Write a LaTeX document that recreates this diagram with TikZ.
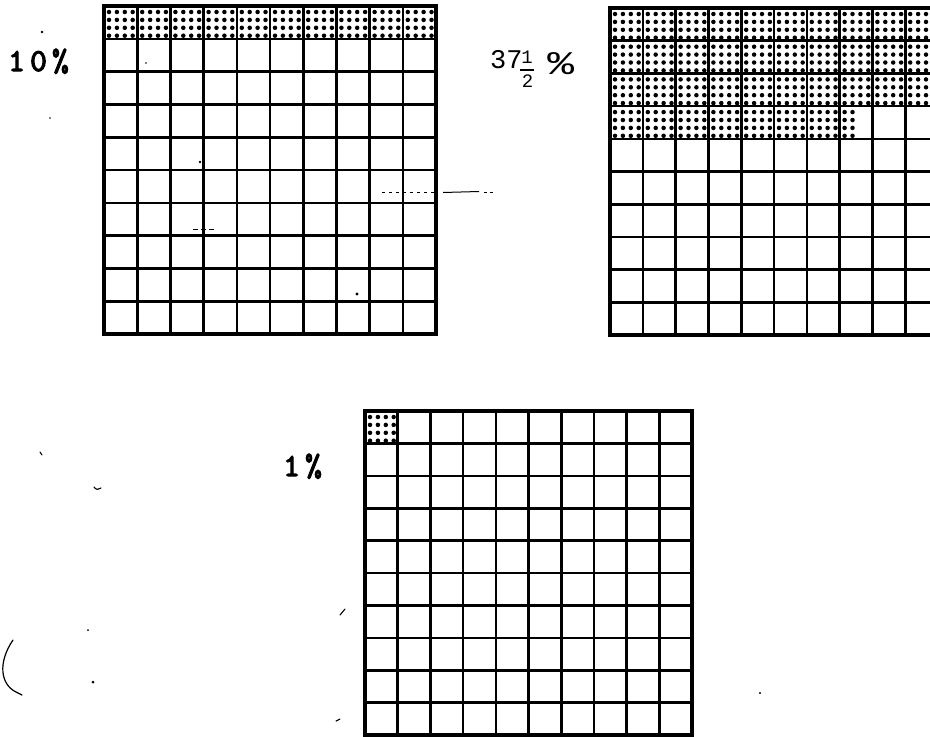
\documentclass[tikz,border=0pt]{standalone}
\usepackage{fontspec}
\newfontfamily\tw{Liberation Mono}
\newfontfamily\typew{lmmono10-regular.otf}[FakeBold=3.5, LetterSpace=16]
\newcommand\pgrid[4]{%
  \foreach \i in {1,...,9}{\draw[gridline] ({#1+\i*#3},#2) -- ({#1+\i*#3},{#2+10*#4});}
  \foreach \j in {1,...,9}{\draw[gridline] (#1,{#2+\j*#4}) -- ({#1+10*#3},{#2+\j*#4});}
  \draw[frameline] (#1,#2) rectangle ({#1+10*#3},{#2+10*#4});
}
\newcommand\shcell[7]{% ox oy cw ch col row lastdotcol
  \foreach \k in {0,...,#7}{\foreach \l in {0,...,3}{%
    \fill[dotfill] ({#1+#5*#3+5+7.9*\k},{#2+#6*#4+6+7.9*\l}) circle (2.25);}}
}
\begin{document}
\begin{tikzpicture}[x=1pt,y=-1pt,
  gridline/.style={line width=2.6pt, black},
  frameline/.style={line width=3.2pt, black, line join=miter},
  dotfill/.style={black},
  pct/.style={font=\typew\fontsize{32}{32}\selectfont, inner sep=0pt, anchor=base west},
  pctb/.style={font=\tw\fontsize{27}{27}\selectfont, inner sep=0pt, anchor=base west},
  fracnum/.style={font=\tw\fontsize{19}{19}\selectfont, inner sep=0pt, anchor=base},
  speck/.style={line width=1.1pt, line cap=round, black}
]
\useasboundingbox (0,0) rectangle (930,737);
\clip (0,0) rectangle (930,737);

% ---- top-left grid: 10%
\foreach \c in {0,...,9}{\shcell{104}{6}{33.2}{32.8}{\c}{0}{3}}
\pgrid{104}{6}{33.2}{32.8}
\node[pct] (p10) at (8,71) {10\%};

% ---- top-right grid: 37 1/2 %
\foreach \r in {0,1,2}{\foreach \c in {0,...,9}{\shcell{610}{8}{32.8}{32.7}{\c}{\r}{3}}}
\foreach \c in {0,...,6}{\shcell{610}{8}{32.8}{32.7}{\c}{3}{3}}
\shcell{610}{8}{32.8}{32.7}{7}{3}{1}
\pgrid{610}{8}{32.8}{32.7}
\node[pctb] (p37) at (490,68) {37};
\node[fracnum] (fnum) at (527,63) {1};
\coordinate (fbl) at (520,70);
\coordinate (fbr) at (534,70);
\draw[line width=1.5pt] (fbl) -- (fbr);
\node[fracnum] (fden) at (527.5,87) {2};
\node[font=\tw\fontsize{33}{33}\selectfont, inner sep=0pt, anchor=base west, xscale=1.35] (ppct) at (547,74) {\%};

% ---- bottom grid: 1%
\shcell{365}{411}{32.7}{32.4}{0}{0}{3}
\pgrid{365}{411}{32.7}{32.4}
\node[pct] (p1) at (283,476) {1\%};

% ---- stray marks of the scan
\coordinate (d1) at (382,192);
\coordinate (d2) at (434,192);
\coordinate (d3) at (443,192.5);
\coordinate (d4) at (479,191.5);
\coordinate (d5) at (484,192);
\coordinate (d6) at (495,192);
\draw[line width=0.8pt, dash pattern=on 3pt off 4pt] (d1) -- (d2);
\draw[line width=1pt] (d3) -- (d4);
\draw[line width=0.8pt, dash pattern=on 3pt off 3pt] (d5) -- (d6);
\coordinate (t1) at (193,229);
\coordinate (t2) at (214,229);
\draw[line width=0.9pt, dash pattern=on 5pt off 3pt] (t1) -- (t2);
\coordinate (c1) at (13,640);
\coordinate (c2) at (16,692);
\coordinate (c3) at (22,695);
\draw[line width=1.2pt, line cap=round] (c1) .. controls (-2,662) and (0,684) .. (c2) -- (c3);
\fill (42,32) circle (1.3);
\fill (88,630) circle (1);
\fill (93,682) circle (1.5);
\fill (200,162) circle (1.4);
\fill (146,63) circle (0.9);
\fill (50,118) circle (0.8);
\fill (760,693) circle (1.2);
\fill (357,294) circle (1.6);
\draw[speck] (340,615) -- (345,609);
\draw[speck] (336,721) -- (340,719);
\draw[speck] (94,487) .. controls (96,490) and (99,490) .. (101,488);
\draw[speck] (40,452) -- (42,455);
\end{tikzpicture}
\end{document}
